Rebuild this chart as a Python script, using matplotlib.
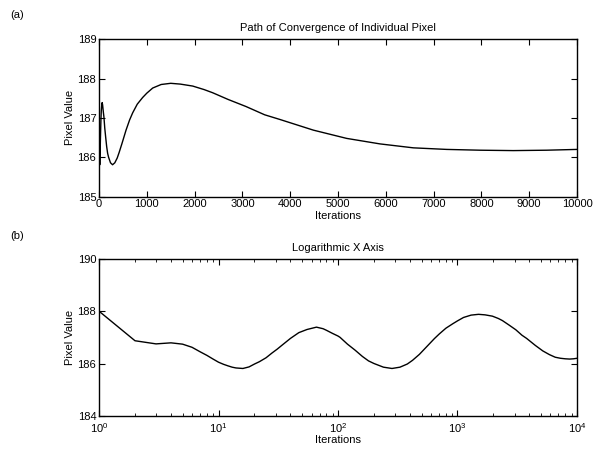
import matplotlib
matplotlib.use('Agg')
import matplotlib.pyplot as plt
from matplotlib.ticker import LogLocator, LogFormatterMathtext, NullFormatter

plt.rcParams['font.family'] = ['Liberation Sans', 'DejaVu Sans']
plt.rcParams['mathtext.fontset'] = 'custom'
plt.rcParams['mathtext.rm'] = 'Liberation Sans'
plt.rcParams['mathtext.it'] = 'Liberation Sans'

# Pixel value at each iteration
iterations = [1, 2, 3, 4, 5, 6, 7, 8, 9, 10, 11, 12, 13, 14, 16, 18, 20, 22,
              25, 28, 31, 34, 40, 47, 55, 66, 75, 80, 90, 100, 104, 120, 139,
              160, 180, 200, 240, 283, 330, 380, 420, 480, 565, 640, 704, 800,
              913, 1000, 1123, 1300, 1500, 1700, 1960, 2200, 2378, 2700, 3075,
              3465, 3787, 4484, 5181, 5879, 6576, 7274, 7971, 8668, 9366, 10000]
pixel_value = [188.00, 186.87, 186.75, 186.79, 186.74, 186.62, 186.45, 186.31,
               186.17, 186.05, 185.97, 185.91, 185.86, 185.83, 185.81, 185.87,
               185.98, 186.07, 186.22, 186.40, 186.55, 186.70, 186.96, 187.18,
               187.30, 187.39, 187.33, 187.27, 187.15, 187.05, 187.00, 186.74,
               186.51, 186.27, 186.10, 186.00, 185.86, 185.81, 185.86, 185.98,
               186.12, 186.35, 186.69, 186.95, 187.13, 187.35, 187.52, 187.63,
               187.76, 187.85, 187.88, 187.86, 187.81, 187.72, 187.64, 187.47,
               187.29, 187.08, 186.96, 186.69, 186.48, 186.34, 186.24, 186.20,
               186.18, 186.17, 186.18, 186.20]

top_xticks = list(range(0, 10001, 1000))
top_yticks = [185, 186, 187, 188, 189]
bottom_yticks = [184, 186, 188, 190]

fs = 8
fig = plt.figure(figsize=(5.93, 4.51), dpi=100)

ax1 = fig.add_axes([0.167, 0.564, 0.806, 0.349])
ax1.plot(iterations, pixel_value, color='black', lw=1.0)
ax1.set_xlim(0, 10000)
ax1.set_ylim(185, 189)
ax1.set_xticks(top_xticks)
ax1.set_yticks(top_yticks)
ax1.set_title('Path of Convergence of Individual Pixel', fontsize=fs, pad=6)
ax1.set_xlabel('Iterations', fontsize=fs, labelpad=1)
ax1.set_ylabel('Pixel Value', fontsize=fs, labelpad=2)

ax2 = fig.add_axes([0.167, 0.078, 0.806, 0.348])
ax2.plot(iterations, pixel_value, color='black', lw=1.0)
ax2.set_xscale('log')
ax2.set_xlim(1, 10000)
ax2.set_ylim(184, 190)
ax2.set_yticks(bottom_yticks)
ax2.xaxis.set_major_locator(LogLocator(base=10, numticks=10))
ax2.xaxis.set_major_formatter(LogFormatterMathtext())
ax2.xaxis.set_minor_locator(LogLocator(base=10, subs=range(2, 10), numticks=10))
ax2.xaxis.set_minor_formatter(NullFormatter())
ax2.set_title('Logarithmic X Axis', fontsize=fs, pad=6)
ax2.set_xlabel('Iterations', fontsize=fs, labelpad=0)
ax2.set_ylabel('Pixel Value', fontsize=fs, labelpad=2)

for ax in (ax1, ax2):
    for s in ax.spines.values():
        s.set_linewidth(1.0)
    ax.tick_params(which='major', direction='in', top=True, right=True,
                   length=4, width=0.8, labelsize=fs, pad=2)
    ax.tick_params(which='minor', direction='in', top=True, right=True,
                   length=2, width=0.6)
ax2.tick_params(axis='x', which='major', pad=4)

fig.text(0.017, 0.967, '(a)', fontsize=fs, ha='left', va='center')
fig.text(0.017, 0.477, '(b)', fontsize=fs, ha='left', va='center')

fig.savefig('out.png', dpi=100)
